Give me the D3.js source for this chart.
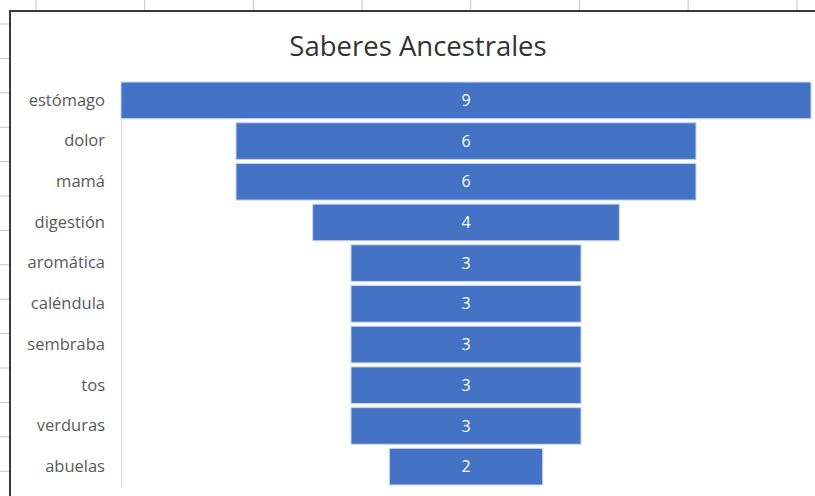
<!DOCTYPE html>
<html>
<head>
<meta charset="utf-8">
<script src="https://cdn.jsdelivr.net/npm/d3@7"></script>
<style>
  body { margin: 0; background: #fff; }
  svg { display: block; }
</style>
</head>
<body>
<svg id="chart" width="815" height="496"></svg>
<script>
// datos del embudo
var categories = ['estómago', 'dolor', 'mamá', 'digestión', 'aromática', 'caléndula', 'sembraba', 'tos', 'verduras', 'abuelas']
var values = [9, 6, 6, 4, 3, 3, 3, 3, 3, 2]
var title = 'Saberes Ancestrales'

var svg = d3.select('#chart')
var font = '"Open Sans", "Noto Sans", sans-serif'

// marcas de la hoja de cálculo
svg.selectAll('.colTick')
  .data(d3.range(36, 815, 108.7))
  .enter().append('line')
  .attr('x1', d => d).attr('x2', d => d)
  .attr('y1', 0).attr('y2', 10)
  .attr('stroke', '#c8c8c8')
svg.selectAll('.rowTick')
  .data(d3.range(24, 496, 34.4))
  .enter().append('line')
  .attr('x1', 0).attr('x2', 9)
  .attr('y1', d => d).attr('y2', d => d)
  .attr('stroke', '#c8c8c8')

// borde del gráfico
svg.append('path')
  .attr('d', 'M10,496 V11 H815')
  .attr('fill', 'none')
  .attr('stroke', '#3a3a3a')
  .attr('stroke-width', 2)

svg.append('text')
  .attr('x', 418)
  .attr('y', 56)
  .attr('text-anchor', 'middle')
  .attr('font-family', font)
  .attr('font-size', 27.5)
  .attr('fill', '#333')
  .text(title)

var left = 121, right = 811
var center = (left + right) / 2

var y = d3.scaleBand()
  .domain(categories)
  .range([80, 487])
  .paddingInner(0.1)
  .paddingOuter(0.05)

var w = d3.scaleLinear()
  .domain([0, d3.max(values)])
  .range([0, right - left])

var data = categories.map((c, i) => ({ cat: c, val: values[i] }))

// eje de categorías
var yAxis = d3.axisLeft(y).tickSize(0).tickPadding(16)
svg.append('g')
  .attr('transform', 'translate(' + left + ',0)')
  .call(g => {
    g.call(yAxis)
    g.select('.domain').attr('stroke', '#d9d9d9')
    g.selectAll('.tick text')
      .attr('font-family', font)
      .attr('font-size', 16.5)
      .attr('fill', '#595959')
  })

var bars = svg.append('g')
bars.selectAll('rect')
  .data(data)
  .enter().append('rect')
  .attr('x', d => center - w(d.val) / 2)
  .attr('y', d => y(d.cat))
  .attr('width', d => w(d.val))
  .attr('height', y.bandwidth())
  .attr('fill', '#4472c4')
  .attr('stroke', '#c9d6ee')
  .attr('stroke-width', 1)

bars.selectAll('text')
  .data(data)
  .enter().append('text')
  .attr('x', center)
  .attr('y', d => y(d.cat) + y.bandwidth() / 2)
  .attr('dy', '0.35em')
  .attr('text-anchor', 'middle')
  .attr('font-family', font)
  .attr('font-size', 16)
  .attr('fill', '#fff')
  .text(d => d.val)
</script>
</body>
</html>
